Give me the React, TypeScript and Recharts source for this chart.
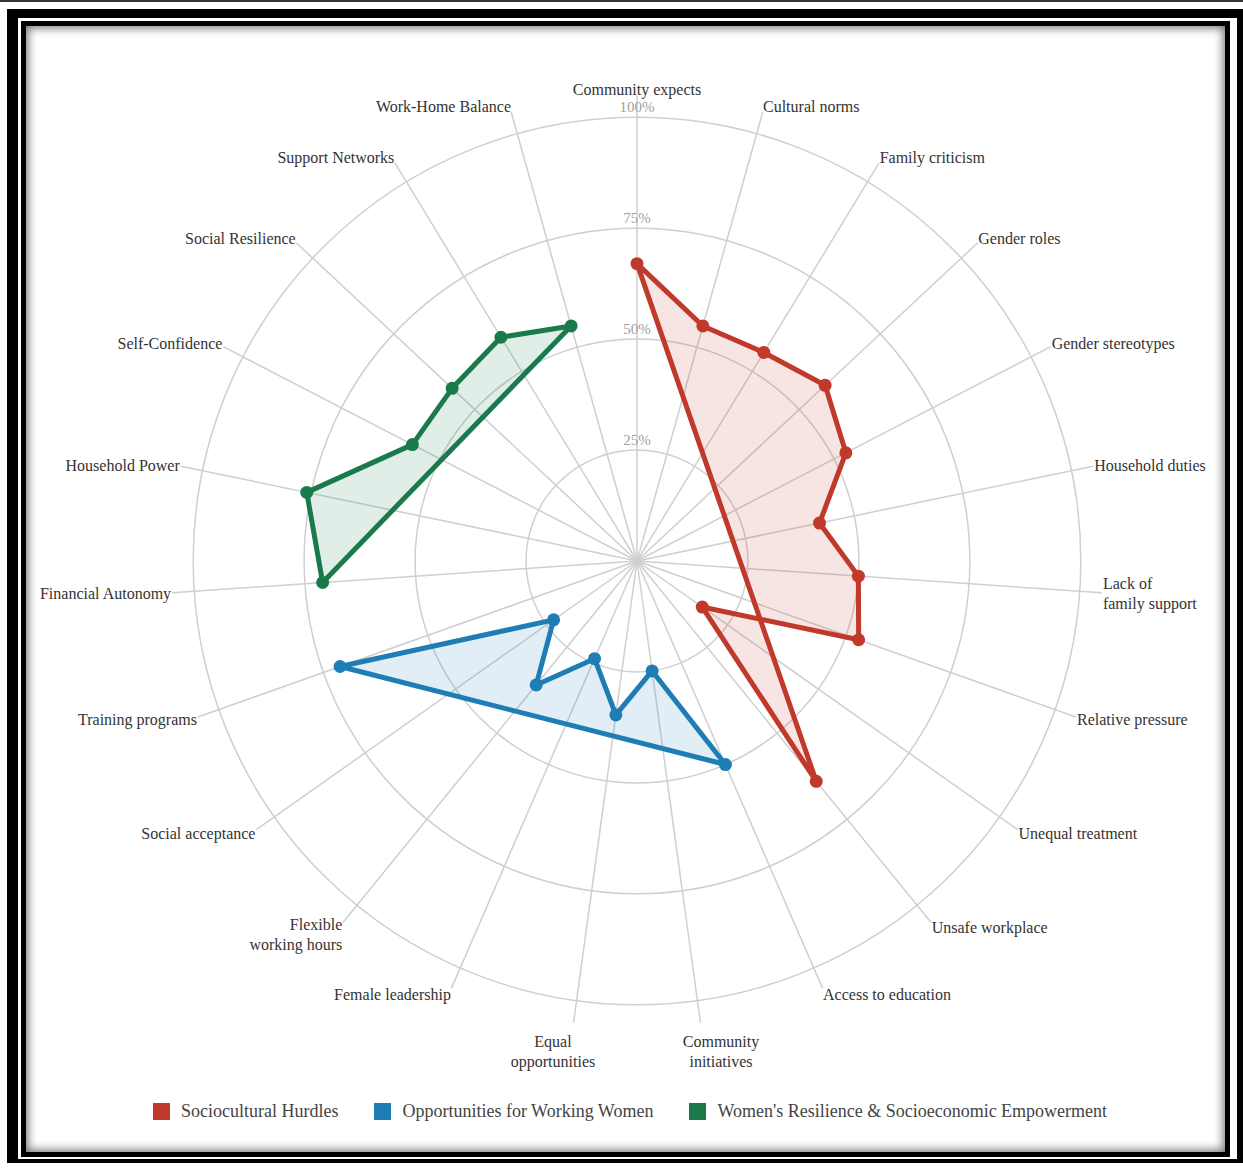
import React from 'react';
import { PolarAngleAxis, PolarGrid, PolarRadiusAxis, Radar, RadarChart } from 'recharts';

// each group only has values on its own spokes
const hurdleAxes = [
  'Community expects',
  'Cultural norms',
  'Family criticism',
  'Gender roles',
  'Gender stereotypes',
  'Household duties',
  'Lack of\nfamily support',
  'Relative pressure',
  'Unequal treatment',
  'Unsafe workplace',
];
const hurdleValues = [0.67, 0.55, 0.55, 0.58, 0.53, 0.42, 0.5, 0.53, 0.18, 0.64];

const opportunityAxes = [
  'Access to education',
  'Community\ninitiatives',
  'Equal\nopportunities',
  'Female leadership',
  'Flexible\nworking hours',
  'Social acceptance',
  'Training programs',
];
const opportunityValues = [0.5, 0.25, 0.35, 0.24, 0.36, 0.23, 0.71];

const resilienceAxes = [
  'Financial Autonomy',
  'Household Power',
  'Self-Confidence',
  'Social Resilience',
  'Support Networks',
  'Work-Home Balance',
];
const resilienceValues = [0.71, 0.76, 0.57, 0.57, 0.59, 0.55];

const radialTicks = [0, 0.25, 0.5, 0.75, 1];

const SERIES = [
  { key: 'hurdles', name: 'Sociocultural Hurdles', color: '#c0392b' },
  { key: 'opportunities', name: 'Opportunities for Working Women', color: '#1f7db5' },
  { key: 'resilience', name: "Women's Resilience & Socioeconomic Empowerment", color: '#1b7a4b' },
];

const categories = [...hurdleAxes, ...opportunityAxes, ...resilienceAxes];

const pick = (axes: string[], values: number[], name: string) => {
  const i = axes.indexOf(name);
  return i < 0 ? null : values[i];
};

const data = categories.map((name) => ({
  name,
  hurdles: pick(hurdleAxes, hurdleValues, name),
  opportunities: pick(opportunityAxes, opportunityValues, name),
  resilience: pick(resilienceAxes, resilienceValues, name),
}));

const FONT = '"Liberation Serif", "Times New Roman", serif';

// polygon only through the spokes that have a value, closed straight back to the first one
const SeriesShape = (props: any) => {
  const { points, color } = props;
  const pts = (points || []).filter((p: any) => p.value != null);
  if (!pts.length) return null;
  const d = pts.map((p: any, i: number) => `${i ? 'L' : 'M'}${p.x},${p.y}`).join('') + 'Z';
  return (
    <g>
      <path d={d} fill={color} fillOpacity={0.13} stroke={color} strokeWidth={5} strokeLinejoin="round" />
      {pts.map((p: any, i: number) => (
        <circle key={i} cx={p.x} cy={p.y} r={6.5} fill={color} />
      ))}
    </g>
  );
};

const AngleTick = (props: any) => {
  const { x, y, payload } = props;
  const rad = (payload.coordinate * Math.PI) / 180;
  const cos = Math.cos(rad);
  const sin = Math.sin(rad);
  const lines = String(payload.value).split('\n');
  const lh = 20;
  const h = lines.length * lh;
  const nearVertical = Math.abs(cos) < 0.2;
  const anchor = nearVertical ? 'middle' : cos > 0 ? 'start' : 'end';
  const tx = x + (nearVertical ? cos * 150 : 0);
  let top = y - 0.5 * (1 + sin) * h + 5 * sin;
  if (nearVertical) top = sin > 0 ? y - h + 5 : y + 8;
  return (
    <text textAnchor={anchor} fontSize={16} fill="#333" fontFamily={FONT}>
      {lines.map((l, i) => (
        <tspan key={i} x={tx} y={top + lh * i + lh / 2} dy="0.35em">
          {l}
        </tspan>
      ))}
    </text>
  );
};

const RadiusTick = (props: any) => {
  const { x, y, payload } = props;
  if (!payload.value) return null;
  return (
    <text x={x} y={y - 5} textAnchor="middle" fontSize={15} fill="#a0a0a0" fontFamily={FONT}>
      {`${Math.round(payload.value * 100)}%`}
    </text>
  );
};

const Frame = () => (
  <>
    <div style={{ position: 'absolute', left: 0, top: 0, width: 1243, height: 2, background: '#333' }} />
    <div
      style={{
        position: 'absolute',
        left: 7,
        top: 9,
        width: 1240,
        height: 1154,
        boxSizing: 'border-box',
        borderStyle: 'solid',
        borderColor: '#000',
        borderWidth: '9px 10px 4px 11px',
      }}
    />
    <div
      style={{
        position: 'absolute',
        left: 21,
        top: 21,
        width: 1209,
        height: 1136,
        boxSizing: 'border-box',
        border: '5px solid #000',
        boxShadow: 'inset 0 0 10px 2px rgba(0,0,0,0.55)',
        background: '#fff',
      }}
    />
  </>
);

const App: React.FC = () => {
  return (
    <div style={{ position: 'absolute', left: 0, top: 0, width: 1243, height: 1169, background: '#fff', fontFamily: FONT }}>
      <Frame />
      <div style={{ position: 'absolute', left: 0, top: 0 }}>
        <RadarChart
          width={1243}
          height={1169}
          data={data}
          cx={637}
          cy={561}
          outerRadius={466}
          startAngle={90}
          endAngle={-270}
          margin={{ top: 0, right: 0, bottom: 0, left: 0 }}
        >
          <PolarGrid gridType="circle" stroke="#cfcfcf" strokeWidth={1.5} />
          <PolarAngleAxis dataKey="name" tick={<AngleTick />} tickLine={false} axisLine={false} tickSize={1} />
          <PolarRadiusAxis
            angle={90}
            type="number"
            domain={[0, 1.05]}
            ticks={radialTicks}
            tick={<RadiusTick />}
            axisLine={false}
            tickLine={false}
          />
          {SERIES.map((s) => (
            <Radar
              key={s.key}
              name={s.name}
              dataKey={s.key}
              stroke={s.color}
              fill={s.color}
              dot={false}
              shape={(p: any) => <SeriesShape {...p} color={s.color} />}
              isAnimationActive={false}
            />
          ))}
        </RadarChart>
      </div>
      <div style={{ position: 'absolute', left: 153, top: 1101, display: 'flex', alignItems: 'center', fontSize: 18, color: '#444' }}>
        {SERIES.map((s) => (
          <div key={s.key} style={{ display: 'flex', alignItems: 'center', marginRight: 36 }}>
            <div style={{ width: 17, height: 17, background: s.color, marginRight: 11 }} />
            <span>{s.name}</span>
          </div>
        ))}
      </div>
    </div>
  );
};

export default App;
